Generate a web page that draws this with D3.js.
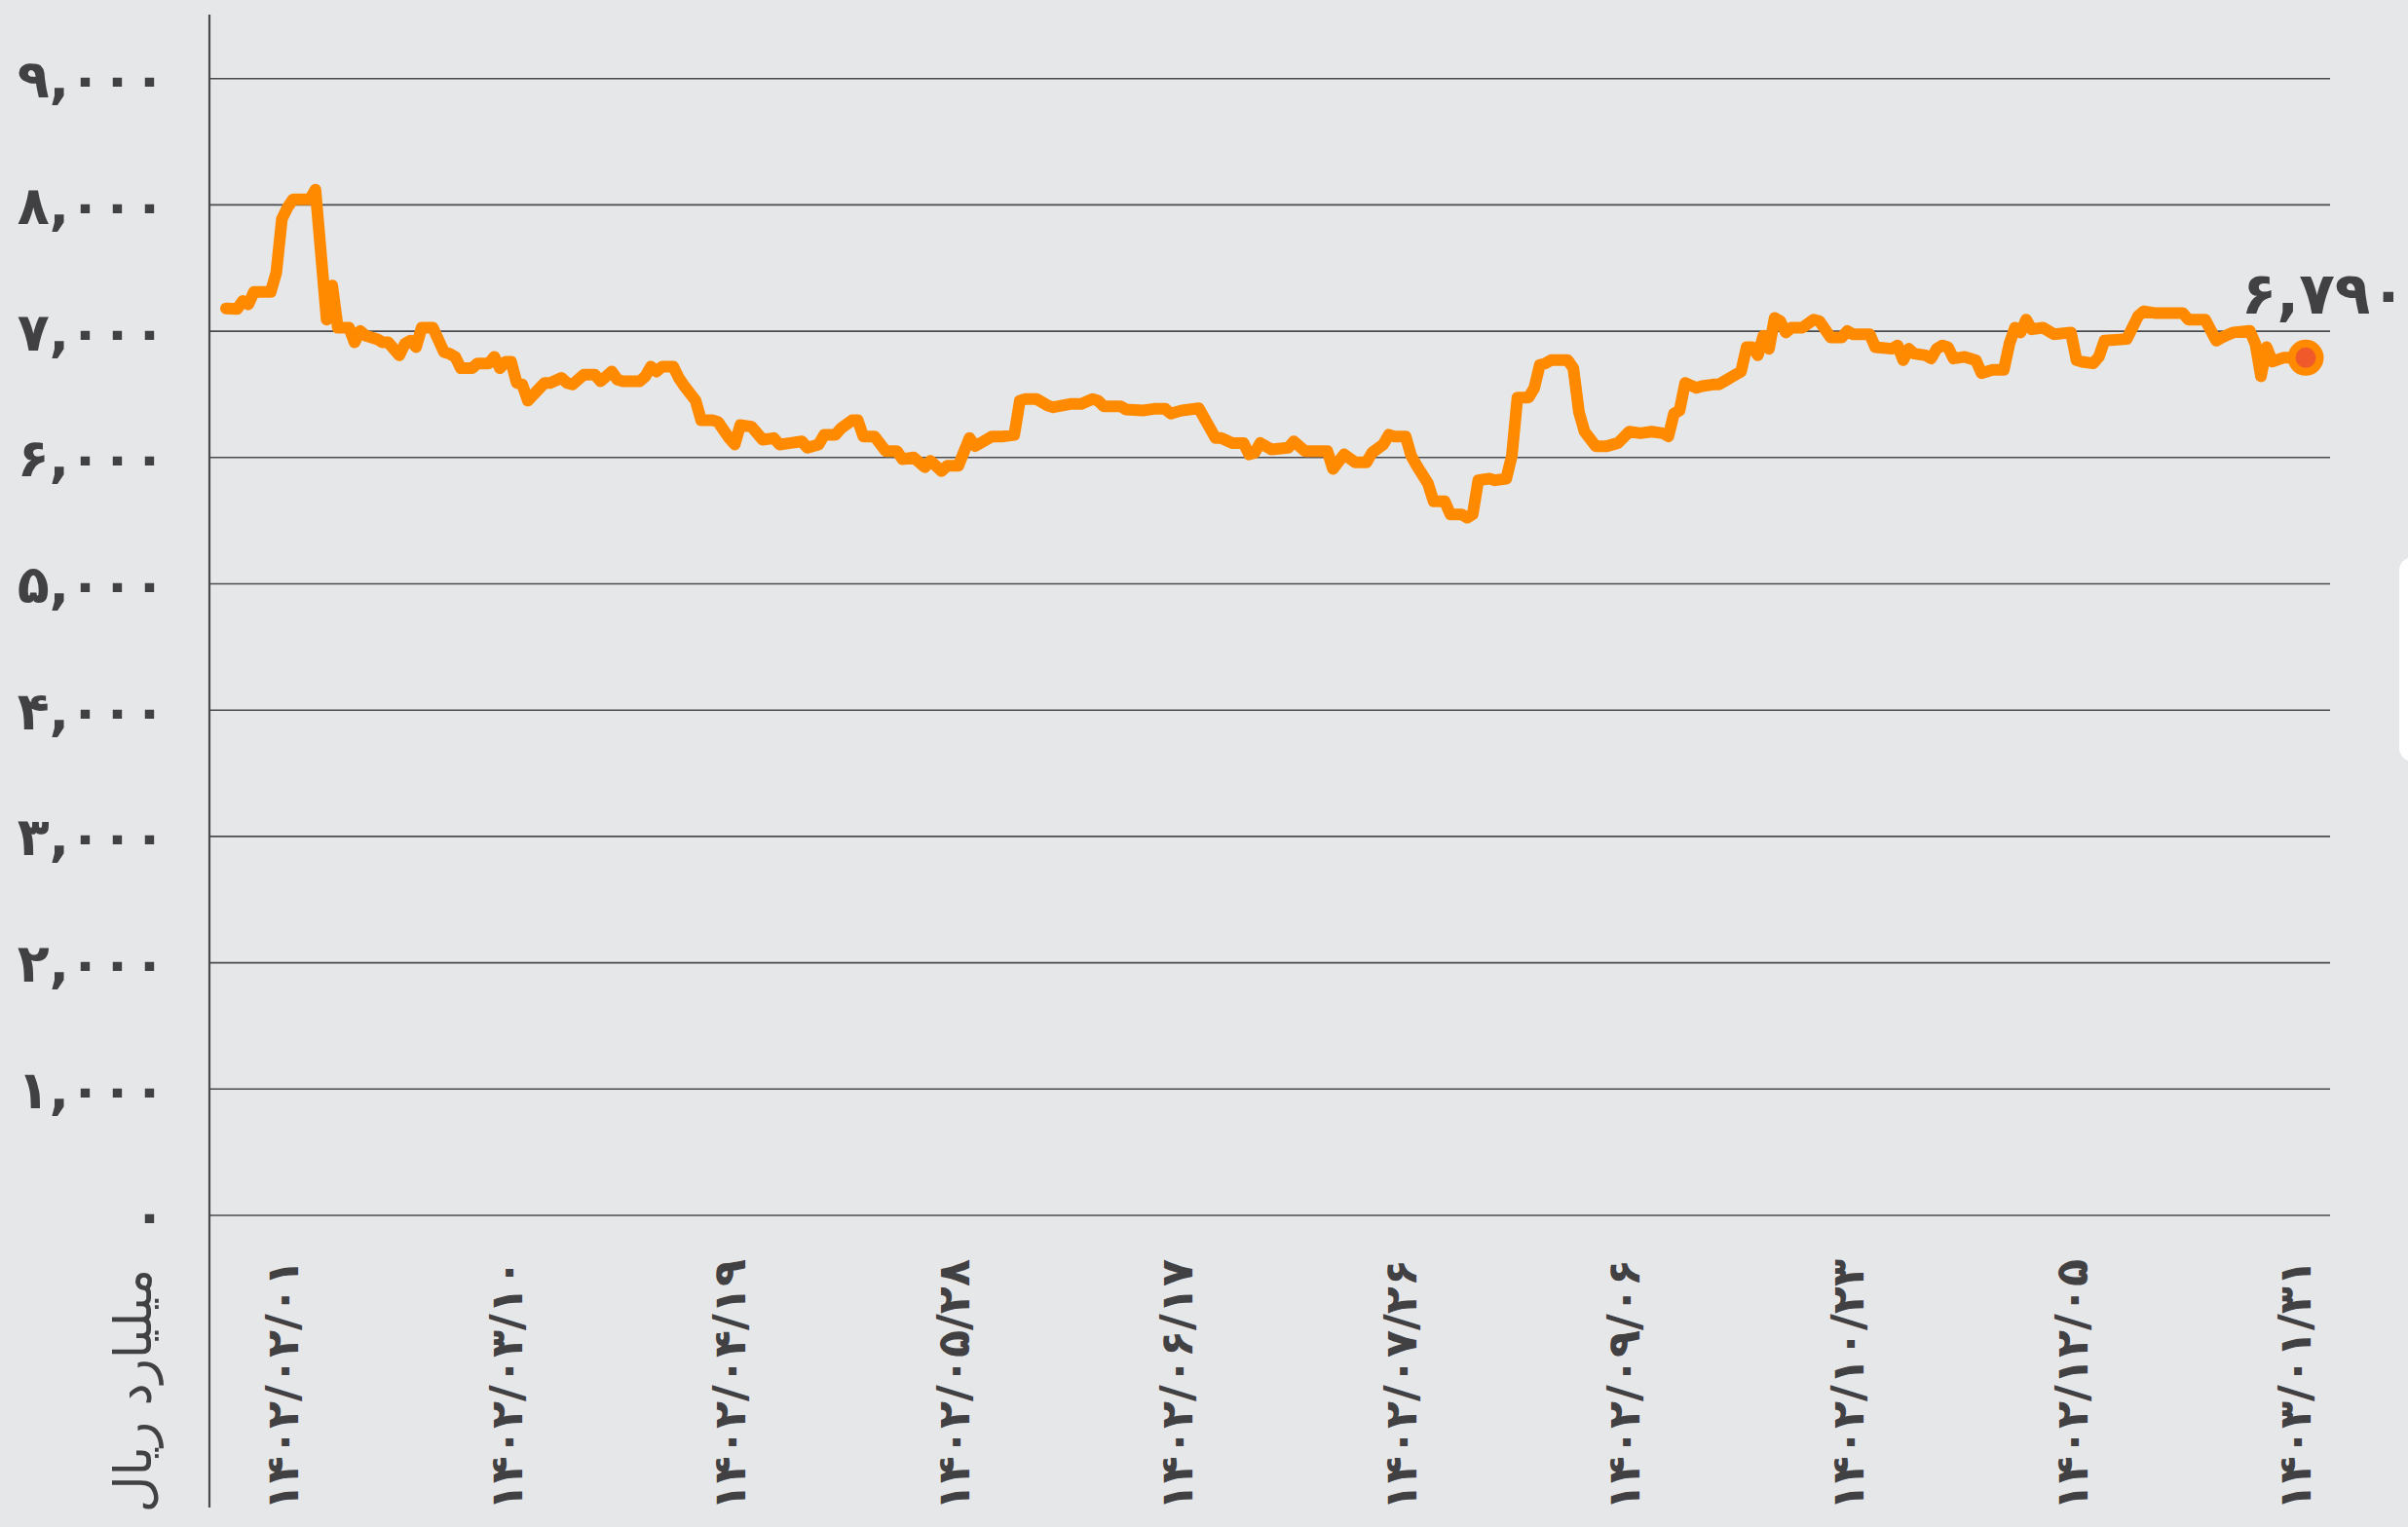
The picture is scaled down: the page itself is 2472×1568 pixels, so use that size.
<!DOCTYPE html>
<html>
<head>
<meta charset="utf-8">
<script src="https://cdn.jsdelivr.net/npm/d3@7/dist/d3.min.js"></script>
<style>
  html, body { margin: 0; padding: 0; background: #e6e7e9; }
  svg { display: block; }
  text { font-family: "DejaVu Sans", sans-serif; fill: #414042; }
</style>
</head>
<body>
<svg id="chart" width="2472" height="1568"></svg>
<script>
// trading-day index of each reading and the value (billion rial)
const dayIdx = [0,2,3,4,5,8,9,10,11,12,15,16,18,19,20,22,23,24,25,27,28,29,31,32,33,34,35,37,39,40,
  41,42,44,45,47,48,49,50,51,52,53,54,57,58,60,61,62,64,66,67,69,70,71,74,75,76,77,78,80,81,
  82,84,85,87,88,90,91,92,94,96,98,99,101,103,104,106,107,109,110,112,113,114,116,118,120,121,123,125,126,128,
  129,131,133,134,135,137,139,141,142,143,145,147,148,151,153,155,156,157,160,161,164,166,168,169,170,171,174,177,178,180,
  182,183,184,185,187,190,191,193,197,198,200,202,204,205,207,208,209,211,212,213,215,216,218,219,221,222,223,224,226,227,
  229,230,231,233,234,235,236,237,240,241,242,243,245,247,249,251,253,255,257,258,259,260,261,263,264,266,267,268,271,272,
  273,274,275,276,277,278,279,280,282,284,285,287,289,290,291,294,295,298,299,300,301,302,304,305,306,307,308,309,311,313,
  314,316,318,319,320,321,322,323,325,327,330,331,332,334,335,336,340,342,343,345,348,350,351,354,356,357,359,362,363,364,
  365,366,368,370,372];

const balance = [7180,7177,7239,7213,7311,7311,7465,7889,7979,8044,8044,8121,7092,7362,7028,7028,6912,7002,6964,6938,6912,6912,6809,6900,6925,6874,7028,7028,6835,6822,
  6797,6707,6707,6745,6745,6797,6707,6758,6758,6591,6578,6450,6591,6591,6630,6591,6578,6655,6655,6604,6681,6617,6604,6604,6643,6720,6681,6720,6720,6630,
  6565,6450,6295,6295,6282,6154,6103,6257,6244,6141,6154,6103,6115,6128,6077,6103,6180,6180,6231,6295,6295,6167,6167,6051,6051,5987,6000,5923,5974,5892,
  5935,5935,6154,6090,6115,6167,6167,6180,6450,6463,6463,6411,6398,6424,6424,6463,6450,6406,6406,6380,6372,6385,6385,6347,6360,6372,6390,6154,6154,6115,
  6115,6025,6038,6115,6064,6077,6128,6051,6051,5910,6025,5961,5961,6038,6103,6180,6167,6167,6013,5935,5794,5653,5653,5550,5550,5524,5550,5820,5833,5820,
  5833,6013,6475,6475,6549,6733,6745,6771,6771,6707,6360,6205,6090,6090,6115,6205,6192,6205,6192,6167,6347,6372,6591,6552,6565,6578,6578,6604,6681,6874,
  6874,6810,6964,6861,7105,7080,6990,7028,7028,7092,7080,6951,6951,7002,6976,6976,6874,6861,6887,6771,6861,6822,6809,6784,6861,6887,6874,6784,6797,6770,
  6668,6694,6694,6900,7028,6990,7092,7015,7028,6976,6990,6771,6758,6745,6797,6925,6938,7118,7157,7144,7144,7144,7092,7092,6925,6951,6990,7002,6900,6643,
  6874,6760,6790,6790,6790];

const tickIdx = [10, 50, 90, 130, 170, 210, 250, 290, 330, 370];
const tickDates = ["1402/02/01","1402/03/10","1402/04/19","1402/05/28","1402/06/17",
  "1402/07/26","1402/09/06","1402/10/23","1402/12/05","1403/01/31"];
const yTicks = [0,1000,2000,3000,4000,5000,6000,7000,8000,9000];
const unitLabel = "میلیارد ریال";

const data = dayIdx.map((d, i) => ({idx: d, v: balance[i]}));

// persian digits
const fa = s => String(s).replace(/[0-9]/g, d => "۰۱۲۳۴۵۶۷۸۹"[+d]);
const fmt = d3.format(",");

let svg = d3.select("#chart");
let x = d3.scaleLinear().domain([0, 372]).range([232, 2367]);
let y = d3.scaleLinear().domain([0, 9000]).range([1248, 80.7]);
let gridLeft = 215, gridRight = 2392;

svg.append("rect").attr("width", 2472).attr("height", 1568).attr("fill", "#e6e7e9");

// horizontal grid
svg.append("g").selectAll("line")
  .data(yTicks).enter().append("line")
  .attr("x1", gridLeft).attr("x2", gridRight)
  .attr("y1", d => y(d)).attr("y2", d => y(d))
  .attr("stroke", "#4b4b4d").attr("stroke-width", 1.6);

// vertical axis line
svg.append("line")
  .attr("x1", gridLeft).attr("x2", gridLeft)
  .attr("y1", 15).attr("y2", 1548)
  .attr("stroke", "#4b4b4d").attr("stroke-width", 2.2);

// y labels
svg.append("g").selectAll("text")
  .data(yTicks).enter().append("text")
  .attr("x", 170).attr("y", d => y(d))
  .attr("dy", "0.36em")
  .attr("text-anchor", "end")
  .attr("font-size", 54).attr("font-weight", "bold")
  .attr("letter-spacing", 2)
  .text(d => fa(fmt(d)));

// x labels, rotated
svg.append("g").selectAll("text")
  .data(tickIdx).enter().append("text")
  .attr("transform", d => "translate(" + x(d) + ",1293) rotate(-90)")
  .attr("dy", "0.36em")
  .attr("text-anchor", "end")
  .attr("font-size", 46).attr("font-weight", "bold")
  .attr("letter-spacing", 1)
  .text((d, i) => fa(tickDates[i]));

// unit label
svg.append("text")
  .attr("transform", "translate(136,1428) rotate(-90)")
  .attr("dy", "0.36em")
  .attr("text-anchor", "middle")
  .attr("font-size", 52)
  .text(unitLabel);

// the line
let line = d3.line().x(d => x(d.idx)).y(d => y(d.v));
svg.append("path")
  .datum(data)
  .attr("d", line)
  .attr("fill", "none")
  .attr("stroke", "#ff8a00")
  .attr("stroke-width", 12)
  .attr("stroke-linejoin", "round")
  .attr("stroke-linecap", "round");

// last point marker and value
let last = data[data.length - 1];
svg.append("circle")
  .attr("cx", x(last.idx)).attr("cy", y(last.v))
  .attr("r", 14.5)
  .attr("fill", "#f05a2b")
  .attr("stroke", "#ff8a00").attr("stroke-width", 8);

svg.append("text")
  .attr("x", 2470).attr("y", 322)
  .attr("text-anchor", "end")
  .attr("font-size", 60).attr("font-weight", "bold")
  .attr("letter-spacing", 3)
  .text(fa(fmt(last.v)));

// partially visible white panel on the right edge
svg.append("rect")
  .attr("x", 2463).attr("y", 572).attr("width", 40).attr("height", 210)
  .attr("rx", 14).attr("fill", "#ffffff");
</script>
</body>
</html>
